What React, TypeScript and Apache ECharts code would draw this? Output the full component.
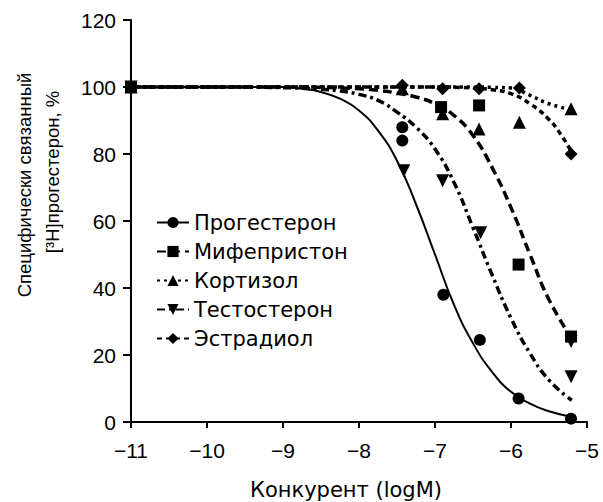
import React, { useEffect, useRef } from 'react';
import * as echarts from 'echarts';

const compounds = ['Прогестерон', 'Мифепристон', 'Кортизол', 'Тестостерон', 'Эстрадиол'];
const xTicks = [-11, -10, -9, -8, -7, -6, -5];
const yTicks = [0, 20, 40, 60, 80, 100, 120];
const xTitle = 'Конкурент (logM)';
const yTitle1 = 'Специфически связанный';
const yTitle2 = '[³H]прогестерон, %';

// measured points [logM, %]
const progesteronePoints = [[-11, 100], [-7.43, 88], [-7.43, 84], [-6.89, 38], [-6.41, 24.5], [-5.9, 7], [-5.21, 1]];
const mifepristonePoints = [[-11, 100], [-6.92, 94], [-6.42, 94.5], [-5.9, 47], [-5.21, 25.5]];
const cortisolPoints = [[-11, 100], [-7.43, 99.5], [-6.9, 92], [-6.42, 87.5], [-5.89, 89.5], [-5.21, 93.5]];
const testosteronePoints = [[-11, 100], [-7.41, 75], [-6.9, 72], [-6.4, 56.5], [-5.21, 24], [-5.21, 13.5]];
const estradiolPoints = [[-11, 100], [-7.43, 100.5], [-6.9, 99.5], [-6.42, 99.5], [-5.89, 99.7], [-5.21, 80]];

// fitted curves
const progesteroneCurve = [[-11, 100], [-10, 100], [-9, 100], [-8.75, 99.5], [-8.5, 98.5], [-8.25, 96.5], [-8, 93], [-7.75, 87], [-7.5, 78], [-7.25, 65], [-7, 50], [-6.75, 35], [-6.5, 23.5], [-6.25, 15], [-6, 9], [-5.75, 5.5], [-5.5, 3.2], [-5.2, 1.5]];
const mifepristoneCurve = [[-11, 100], [-10, 100], [-9, 100], [-8, 99.5], [-7.75, 99], [-7.5, 98.2], [-7.25, 97], [-7, 95], [-6.75, 91.5], [-6.5, 85.5], [-6.25, 76], [-6, 64], [-5.75, 50], [-5.5, 36.5], [-5.2, 25]];
const cortisolCurve = [[-11, 100], [-10, 100], [-9, 100], [-8, 100], [-7, 100], [-6.5, 100], [-6.25, 99.9], [-6, 99.7], [-5.75, 97.5], [-5.5, 95], [-5.2, 93.2]];
const testosteroneCurve = [[-11, 100], [-10, 100], [-9, 99.8], [-8.5, 99.3], [-8.25, 98.8], [-8, 97.8], [-7.75, 96], [-7.5, 92.5], [-7.25, 88], [-7, 81.5], [-6.75, 71.5], [-6.5, 58], [-6.25, 44], [-6, 31], [-5.75, 20.5], [-5.5, 12.5], [-5.2, 6.5]];
const estradiolCurve = [[-11, 100], [-10, 100], [-9, 100], [-8, 100], [-7, 100], [-6.5, 99.7], [-6.25, 99.2], [-6, 98], [-5.75, 95], [-5.5, 90.3], [-5.35, 86], [-5.2, 80.5]];

const curves = [progesteroneCurve, mifepristoneCurve, cortisolCurve, testosteroneCurve, estradiolCurve];
const points = [progesteronePoints, mifepristonePoints, cortisolPoints, testosteronePoints, estradiolPoints];
const symbols = ['circle', 'rect', 'triangle', 'triangle', 'diamond'];
const symbolRotations = [0, 0, 0, 180, 0];
const symbolSizes = [12, 12, 13, 13, 13];
const dashTypes: any[] = ['solid', [9, 5], [3, 4], [8, 4, 3, 4], [5, 4]];
const lineWidths = [2, 3.5, 3.5, 3.5, 3.5];

const NUM_FONT = '"Liberation Sans", Arial, Helvetica, sans-serif';
const TXT_FONT = '"DejaVu Sans", "Liberation Sans", sans-serif';

export default function App() {
  const ref = useRef<HTMLDivElement>(null);
  useEffect(() => {
    if (!ref.current) return;
    const chart = echarts.init(ref.current, undefined, { renderer: 'svg' });
    const series: any[] = [];
    compounds.forEach((name, i) => {
      series.push({
        name,
        type: 'line',
        data: curves[i],
        smooth: 0.5,
        showSymbol: false,
        symbol: symbols[i],
        symbolRotate: symbolRotations[i],
        symbolSize: symbolSizes[i],
        itemStyle: { color: '#000', opacity: 1 },
        lineStyle: { color: '#000', width: lineWidths[i], type: dashTypes[i], opacity: 1 },
        z: 2,
        silent: true,
      });
    });
    compounds.forEach((name, i) => {
      series.push({
        name: name + ' (точки)',
        type: 'scatter',
        data: points[i],
        symbol: symbols[i],
        symbolRotate: symbolRotations[i],
        symbolSize: symbolSizes[i],
        itemStyle: { color: '#000', opacity: 1 },
        z: 3,
        silent: true,
      });
    });
    chart.setOption({
      animation: false,
      backgroundColor: '#fff',
      grid: { left: 131, right: 16, top: 20, bottom: 80, containLabel: false },
      legend: {
        data: compounds,
        orient: 'vertical',
        left: 156,
        top: 212,
        padding: 0,
        itemWidth: 32,
        itemHeight: 14,
        itemGap: 8,
        selectedMode: false,
        textStyle: { fontSize: 21, lineHeight: 21, fontFamily: TXT_FONT, color: '#000' },
      },
      xAxis: {
        type: 'value',
        min: xTicks[0],
        max: xTicks[xTicks.length - 1],
        interval: 1,
        axisLine: { show: true, onZero: false, lineStyle: { color: '#000', width: 2 } },
        axisTick: { show: true, inside: false, length: 6, lineStyle: { color: '#000', width: 2 } },
        splitLine: { show: false },
        axisLabel: {
          margin: 18,
          fontSize: 21,
          fontFamily: NUM_FONT,
          color: '#000',
          formatter: (v: number) => String(v).replace('-', '\u2212'),
        },
      },
      yAxis: {
        type: 'value',
        min: yTicks[0],
        max: yTicks[yTicks.length - 1],
        interval: 20,
        axisLine: { show: true, lineStyle: { color: '#000', width: 2 } },
        axisTick: { show: true, inside: false, length: 8, lineStyle: { color: '#000', width: 2 } },
        splitLine: { show: false },
        axisLabel: { margin: 15, fontSize: 21, fontFamily: NUM_FONT, color: '#000' },
      },
      graphic: [
        {
          type: 'text',
          x: 346,
          y: 490,
          style: { text: xTitle, fontSize: 21, fontFamily: TXT_FONT, fill: '#000', align: 'center', verticalAlign: 'middle' },
        },
        {
          type: 'text',
          x: 24,
          y: 185,
          rotation: Math.PI / 2,
          style: { text: yTitle1, fontSize: 18.5, fontFamily: NUM_FONT, fill: '#000', align: 'center', verticalAlign: 'middle' },
        },
        {
          type: 'text',
          x: 52,
          y: 172,
          rotation: Math.PI / 2,
          style: { text: yTitle2, fontSize: 18.5, fontFamily: NUM_FONT, fill: '#000', align: 'center', verticalAlign: 'middle' },
        },
      ],
      series,
    });
    return () => chart.dispose();
  }, []);
  return <div ref={ref} style={{ position: 'fixed', left: 0, top: 0, width: 603, height: 502, background: '#fff' }} />;
}
